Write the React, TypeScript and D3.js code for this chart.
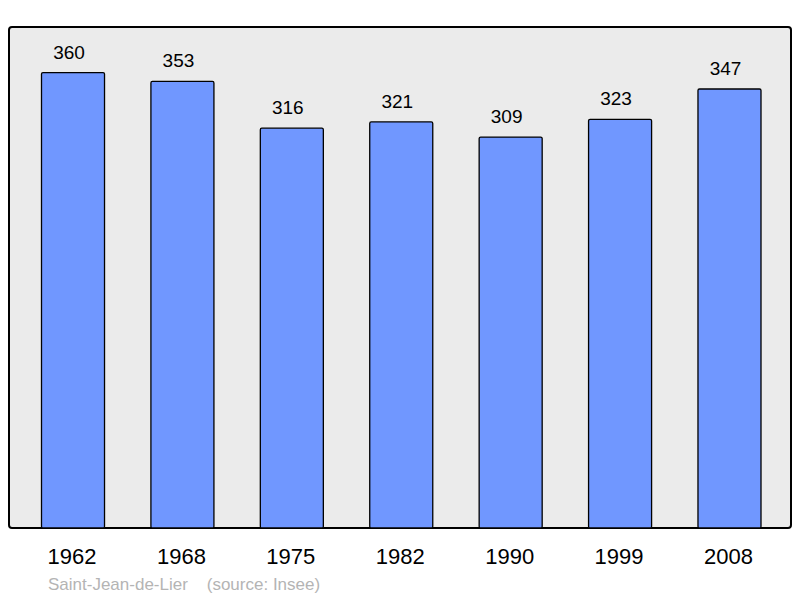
import React from "react";
import * as d3 from "d3";

const years = ["1962", "1968", "1975", "1982", "1990", "1999", "2008"];
const population = [360, 353, 316, 321, 309, 323, 347];
const caption = "Saint-Jean-de-Lier    (source: Insee)";

export default function App() {
  const W = 800, H = 598;
  const frame = { x: 9, y: 27, w: 782, h: 501 };
  const x = d3.scaleBand<string>().domain(years).range([41.5, 761]).paddingInner(0.424).paddingOuter(0);
  const y = d3.scaleLinear().domain([0, 396]).range([frame.y + frame.h, frame.y]);
  const font = "'Liberation Sans', Arial, sans-serif";
  return (
    <svg width={W} height={H} style={{ position: "absolute", left: 0, top: 0 }}>
      <rect x={frame.x} y={frame.y} width={frame.w} height={frame.h} rx={3} fill="#ebebeb" stroke="#000" strokeWidth={2} />
      {population.map((v, i) => (
        <g key={years[i]}>
          <rect x={x(years[i])} y={y(v)} width={x.bandwidth()} height={y(0) - y(v)} fill="#7097ff" stroke="#000" strokeWidth={1.3} rx={1.5} />
          <text x={(x(years[i]) as number) + x.bandwidth() / 2 - 4} y={y(v) - 14} textAnchor="middle" fontFamily={font} fontSize={19} fill="#000">{v}</text>
          <text x={(x(years[i]) as number) + x.bandwidth() / 2 - 1} y={564} textAnchor="middle" fontFamily={font} fontSize={22} fill="#000">{years[i]}</text>
        </g>
      ))}
      <text x={48} y={590} fontFamily={font} fontSize={17} fill="#b4b4b4" style={{ whiteSpace: "pre" }}>{caption}</text>
    </svg>
  );
}
